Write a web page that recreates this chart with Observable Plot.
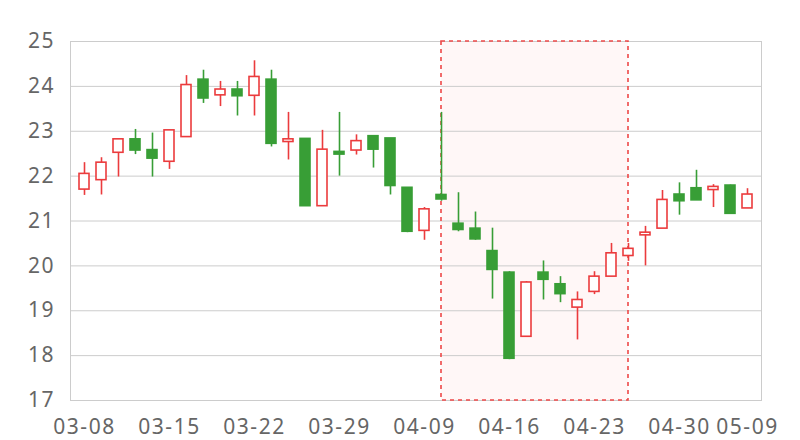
<!DOCTYPE html>
<html>
<head>
<meta charset="utf-8">
<script src="https://cdn.jsdelivr.net/npm/d3@7"></script>
<script src="https://cdn.jsdelivr.net/npm/@observablehq/plot@0.6"></script>
<style>
  html, body { margin: 0; padding: 0; background: #fff; }
  #chart { width: 800px; height: 440px; }
</style>
</head>
<body>
<div id="chart"></div>
<script>
const dates = ["03-08","03-11","03-12","03-13","03-14","03-15","03-18","03-19","03-20","03-21",
  "03-22","03-25","03-26","03-27","03-28","03-29","04-01","04-02","04-03","04-08",
  "04-09","04-10","04-11","04-12","04-15","04-16","04-17","04-18","04-19","04-22",
  "04-23","04-24","04-25","04-26","04-29","04-30","05-06","05-07","05-08","05-09"];
const opens  = [21.70,21.91,22.52,22.82,22.58,22.32,22.87,24.15,23.80,23.93,
  23.79,24.15,22.76,22.83,21.33,22.54,22.57,22.89,22.84,21.74,
  20.78,21.58,20.94,20.83,20.33,19.85,18.42,19.85,19.59,19.07,
  19.42,19.76,20.22,20.68,20.83,21.59,21.73,21.69,21.79,21.28];
const closes = [22.05,22.30,22.82,22.57,22.39,23.02,24.03,23.73,23.93,23.78,
  24.21,22.72,22.82,21.33,22.59,22.48,22.78,22.59,21.78,20.76,
  21.26,21.48,20.80,20.59,19.91,17.93,19.63,19.69,19.37,19.24,
  19.76,20.28,20.38,20.74,21.47,21.44,21.46,21.76,21.16,21.59];
const lows   = [21.57,21.58,21.98,22.48,21.98,22.15,22.87,23.62,23.55,23.34,
  23.34,22.65,22.36,21.33,21.33,22.00,22.47,22.18,21.58,20.74,
  20.57,21.44,20.76,20.57,19.26,17.91,18.42,19.24,19.18,18.35,
  19.36,19.76,20.10,20.00,20.83,21.13,21.46,21.30,21.15,21.28];
const highs  = [22.30,22.41,22.82,23.04,22.96,23.02,24.24,24.36,24.11,24.11,
  24.57,24.36,23.42,22.83,23.02,23.42,22.92,22.89,22.84,21.74,
  21.30,23.42,21.63,21.20,20.84,19.87,19.65,20.11,19.76,19.42,
  19.87,20.50,20.50,20.88,21.68,21.85,22.13,21.81,21.80,21.72];
const yTicks = [17,18,19,20,21,22,23,24,25];
const xTickLabels = ["03-08","03-15","03-22","03-29","04-09","04-16","04-23","04-30","05-09"];
const highlightStart = "04-10";
const highlightEnd = "04-25";

const UP = "#eb3b3d";
const DOWN = "#389e36";

const data = dates.map((d, i) => ({
  date: d, open: opens[i], close: closes[i], low: lows[i], high: highs[i],
  up: closes[i] >= opens[i]
}));

function build(halfBand) {
  return Plot.plot({
    width: 800,
    height: 440,
    marginLeft: 70,
    marginRight: 39,
    marginTop: 41,
    marginBottom: 40,
    style: {fontFamily: "'Noto Sans', 'Open Sans', sans-serif", fontSize: "21px", letterSpacing: "1.5px", color: "#666", background: "#fff"},
    x: {type: "band", domain: dates, paddingInner: 0.4, paddingOuter: 0.2, ticks: xTickLabels, tickSize: 0, tickPadding: 19, label: null},
    y: {domain: [17, 25], ticks: yTicks, tickSize: 0, tickPadding: 15.5, label: null},
    marks: [
      Plot.rect([{a: highlightStart, b: highlightEnd}], {
        x1: "a", x2: "b", y1: 17, y2: 25,
        fill: "#ff3030", fillOpacity: 0.04,
        insetLeft: halfBand, insetRight: halfBand
      }),
      Plot.ruleY(yTicks, {stroke: "#cccccc", strokeWidth: 1}),
      Plot.frame({stroke: "#cccccc", strokeWidth: 1}),
      Plot.rect([{a: highlightStart, b: highlightEnd}], {
        x1: "a", x2: "b", y1: 17, y2: 25,
        fill: "none", stroke: "#ee4848", strokeWidth: 1.6, strokeDasharray: "4,4",
        insetLeft: halfBand, insetRight: halfBand
      }),
      Plot.ruleX(data, {x: "date", y1: "low", y2: "high", stroke: d => d.up ? UP : DOWN, strokeWidth: 1.6}),
      Plot.barY(data, {
        x: "date",
        y1: d => Math.min(d.open, d.close),
        y2: d => Math.max(d.open, d.close),
        fill: d => d.up ? "#ffffff" : DOWN,
        stroke: d => d.up ? UP : DOWN,
        strokeWidth: 1.6
      })
    ]
  });
}

const probe = build(0);
const bw = probe.scale("x").bandwidth;
const chart = build(bw / 2);
document.getElementById("chart").appendChild(chart);
</script>
</body>
</html>
